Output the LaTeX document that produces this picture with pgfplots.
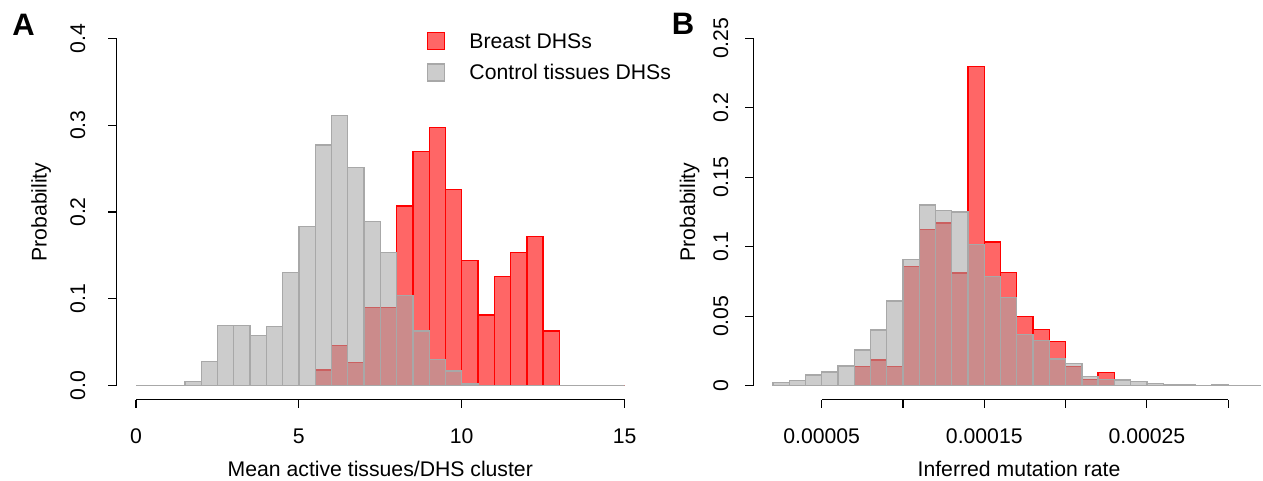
\documentclass[border=0pt]{standalone}
\usepackage{fontspec}
\setmainfont{Liberation Sans}
\usepackage{pgfplots}
\pgfplotsset{compat=1.18}

\definecolor{histred}{RGB}{255,0,0}
\definecolor{histgray}{RGB}{167,167,167}
\definecolor{histgrayline}{RGB}{168,168,168}

\newcommand{\labfont}{\fontsize{21.2}{25}\selectfont}

% Panel A: mean number of active tissues per DHS cluster (bins of 0.5)
\pgfplotstableread{
x     p
0.0   0
0.5   0
1.0   0
1.5   0
2.0   0
2.5   0
3.0   0
3.5   0
4.0   0
4.5   0
5.0   0
5.5   0.018
6.0   0.046
6.5   0.027
7.0   0.090
7.5   0.090
8.0   0.207
8.5   0.270
9.0   0.297
9.5   0.226
10.0  0.144
10.5  0.0815
11.0  0.126
11.5  0.153
12.0  0.172
12.5  0.063
13.0  0
13.5  0
14.0  0
14.5  0
15.0  0
}\breastA
\pgfplotstableread{
x     p
0.0   0
0.5   0
1.0   0
1.5   0.005
2.0   0.028
2.5   0.069
3.0   0.069
3.5   0.058
4.0   0.068
4.5   0.130
5.0   0.183
5.5   0.277
6.0   0.311
6.5   0.251
7.0   0.189
7.5   0.153
8.0   0.104
8.5   0.063
9.0   0.030
9.5   0.017
10.0  0.002
10.5  0
11.0  0
11.5  0
12.0  0
12.5  0
13.0  0
13.5  0
14.0  0
14.5  0
15.0  0
}\controlA

% Panel B: inferred mutation rate, x in units of 1e-5 (bins of 1e-5)
\pgfplotstableread{
x   p
2   0
3   0
4   0
5   0
6   0
7   0.0137
8   0.0185
9   0.0137
10  0.0857
11  0.1125
12  0.117
13  0.081
14  0.2296
15  0.1034
16  0.0813
17  0.0497
18  0.0406
19  0.0317
20  0.0137
21  0.0046
22  0.0094
23  0
24  0
25  0
26  0
27  0
28  0
29  0
30  0
31  0
32  0
}\breastB
\pgfplotstableread{
x   p
2   0.0024
3   0.0036
4   0.0077
5   0.0099
6   0.0142
7   0.0257
8   0.040
9   0.061
10  0.091
11  0.130
12  0.126
13  0.125
14  0.1018
15  0.0785
16  0.0633
17  0.037
18  0.0324
19  0.0192
20  0.0158
21  0.0068
22  0.0046
23  0.0041
24  0.0032
25  0.0015
26  0.0005
27  0.001
28  0.0003
29  0.001
30  0.0002
31  0.0001
32  0
}\controlB

\pgfplotsset{
  histaxis/.style={
    scale only axis, anchor=south west,
    height=375.2pt, clip=false,
    axis x line*=bottom, axis y line*=left,
    axis line style={draw=none},
    tick align=outside, major tick length=8pt,
    tick style={black, line width=1.2pt},
    xticklabel style={font=\labfont, anchor=north, inner sep=0pt},
    yticklabel style={font=\labfont, rotate=90, anchor=south, inner sep=0pt},
    xticklabel shift=21pt,
    minor tick num=0,
  },
  redhist/.style={ybar interval, fill=histred, fill opacity=0.6,
    draw=histred, line width=1.3pt,
    legend image code/.code={\draw[fill=histred, fill opacity=0.6, draw=histred, line width=1.3pt]
      (0pt,-8pt) rectangle (17pt,9pt);}},
  grayhist/.style={ybar interval, fill=histgray, fill opacity=0.58,
    draw=histgrayline, line width=1.3pt,
    legend image code/.code={\draw[fill=histgray, fill opacity=0.58, draw=histgrayline, line width=1.3pt]
      (0pt,-8pt) rectangle (17pt,9pt);}},
}

\begin{document}
\begin{tikzpicture}
\useasboundingbox (0,0) rectangle (1263pt,481pt);

\begin{axis}[histaxis, at={(116.5pt,81.4pt)}, width=527.6pt,
  xmin=-0.6, xmax=15.6, ymin=-0.016, ymax=0.416,
  xtick={0,5,10,15}, xticklabels={0,5,10,15},
  ytick={0,0.1,0.2,0.3,0.4}, yticklabels={0.0,0.1,0.2,0.3,0.4},
  yticklabel shift=23pt,
  legend style={at={(rel axis cs:0.5885,0.9805)}, anchor=north west,
    draw=none, fill=none, inner sep=0pt, row sep=13pt, column sep=24pt,
    font=\labfont, nodes={inner sep=0pt}},
  legend cell align=left]
\addplot[redhist] table[x=x, y=p] {\breastA};
\addlegendentry{Breast DHSs}
\addplot[grayhist] table[x=x, y=p] {\controlA};
\addlegendentry{Control tissues DHSs}
\draw[line width=1.2pt] (axis cs:0,-0.016) -- (axis cs:15,-0.016);
\draw[line width=1.2pt] (axis cs:-0.6,0) -- (axis cs:-0.6,0.4);
\end{axis}

\begin{axis}[histaxis, at={(753.4pt,81.4pt)}, width=526.8pt,
  xmin=0.8, xmax=33.2, ymin=-0.01, ymax=0.26,
  xtick={5,10,15,20,25,30}, xticklabels={0.00005,,0.00015,,0.00025,},
  ytick={0,0.05,0.1,0.15,0.2,0.25}, yticklabels={0,0.05,0.1,0.15,0.2,0.25},
  yticklabel shift=17pt]
\addplot[redhist] table[x=x, y=p] {\breastB};
\addplot[grayhist] table[x=x, y=p] {\controlB};
\draw[line width=1.2pt] (axis cs:5,-0.01) -- (axis cs:30,-0.01);
\draw[line width=1.2pt] (axis cs:0.8,0) -- (axis cs:0.8,0.25);
\end{axis}

\node[font=\labfont, rotate=90, anchor=base] at (46.5pt,269pt) {Probability};
\node[font=\labfont, rotate=90, anchor=base] at (695pt,269pt) {Probability};
\node[font=\labfont, anchor=base] at (380.3pt,4.5pt) {Mean active tissues/DHS cluster};
\node[font=\labfont, anchor=base] at (1019pt,4.5pt) {Inferred mutation rate};
\node[font=\fontsize{31}{36}\selectfont\bfseries] at (23.5pt,456pt) {A};
\node[font=\fontsize{31}{36}\selectfont\bfseries] at (683pt,457pt) {B};
\end{tikzpicture}
\end{document}
